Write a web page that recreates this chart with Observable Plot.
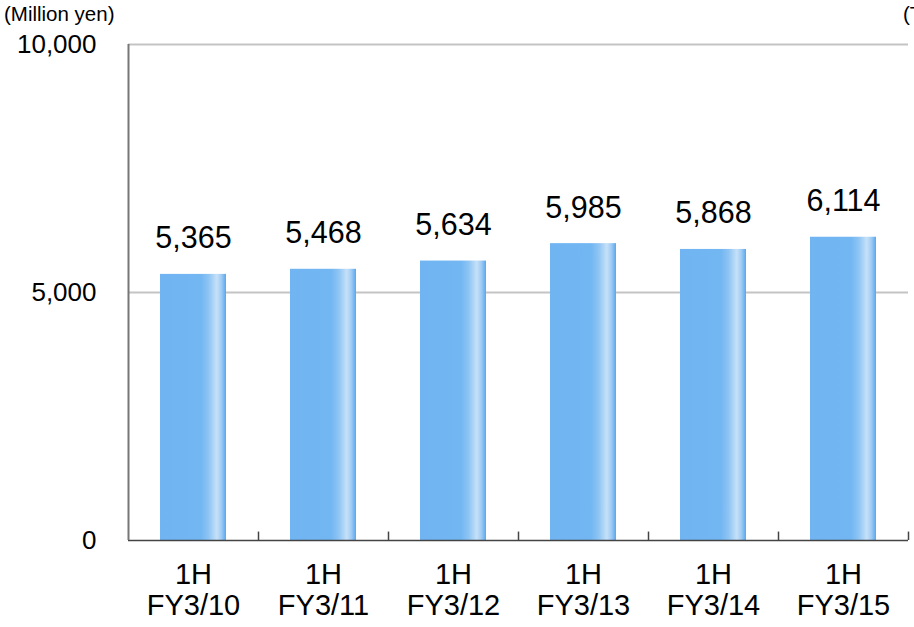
<!DOCTYPE html>
<html>
<head>
<meta charset="utf-8">
<script src="https://cdn.jsdelivr.net/npm/d3@7"></script>
<script src="https://cdn.jsdelivr.net/npm/@observablehq/plot@0.6"></script>
<style>
  html, body { margin: 0; padding: 0; background: #fff; overflow: hidden; width: 914px; height: 627px; }
  #wrap { position: relative; width: 914px; height: 627px; overflow: hidden; font-family: "Liberation Sans", Arial, sans-serif; }
  #unitL { position: absolute; left: 4px; top: 2px; font-size: 20.5px; color: #000; white-space: nowrap; }
  #unitR { position: absolute; left: 903px; top: 2px; font-size: 20.5px; color: #000; white-space: nowrap; }
  #chart { position: absolute; left: 0; top: 0; }
</style>
</head>
<body>
<div id="wrap">
  <div id="chart"></div>
  <div id="unitL">(Million yen)</div>
  <div id="unitR">(Thousand units)</div>
</div>
<script>
const periods = ["1H\nFY3/10", "1H\nFY3/11", "1H\nFY3/12", "1H\nFY3/13", "1H\nFY3/14", "1H\nFY3/15"];
const sales = [5365, 5468, 5634, 5985, 5868, 6114];
const yTicks = [0, 5000, 10000];
const gridValues = [5000, 10000];

const data = periods.map((p, i) => ({period: p, value: sales[i]}));
const fmt = d3.format(",");

const plot = Plot.plot({
  width: 914,
  height: 627,
  marginTop: 44,
  marginLeft: 128,
  marginRight: 6,
  marginBottom: 87,
  style: {fontFamily: "'Liberation Sans', Arial, sans-serif", background: "white", color: "#000", overflow: "visible"},
  x: {domain: periods, paddingInner: 0.49, paddingOuter: 0.245, label: null},
  y: {domain: [0, 10000], label: null},
  marks: [
    Plot.ruleY(gridValues, {stroke: "#c4c4c4", strokeWidth: 2}),
    Plot.barY(data, {x: "period", y: "value", fill: "url(#barGrad)"}),
    Plot.ruleY([0], {stroke: "#444", strokeWidth: 1.5}),
    Plot.ruleX(periods, {x: d => d, y1: 0, y2: 170, dx: 65, stroke: "#444", strokeWidth: 1.5}),
    Plot.ruleX([periods[0]], {x: d => d, y1: 0, y2: 10000, dx: -65, stroke: "#777", strokeWidth: 2}),
    Plot.text(data, {x: "period", y: "value", text: d => fmt(d.value), lineAnchor: "bottom", dy: -26, fontSize: 30.5, fill: "#000"}),
    Plot.axisY({ticks: yTicks, tickFormat: fmt, tickSize: 0, tickPadding: 32, fontSize: 26, label: null}),
    Plot.axisX({tickSize: 0, tickPadding: 21, fontSize: 29, lineHeight: 1.08, label: null})
  ]
});

const svg = d3.select(plot);
const defs = svg.insert("defs", ":first-child");
const grad = defs.append("linearGradient").attr("id", "barGrad")
  .attr("x1", "0%").attr("x2", "100%").attr("y1", "0%").attr("y2", "0%");
[
  [0, "#70b5f2"], [0.62, "#72b6f2"], [0.74, "#8fc5f4"], [0.86, "#c6e1f8"],
  [0.93, "#9fcbf4"], [1, "#58a7ee"]
].forEach(([o, c]) => grad.append("stop").attr("offset", o).attr("stop-color", c));

document.getElementById("chart").appendChild(plot);
</script>
</body>
</html>
